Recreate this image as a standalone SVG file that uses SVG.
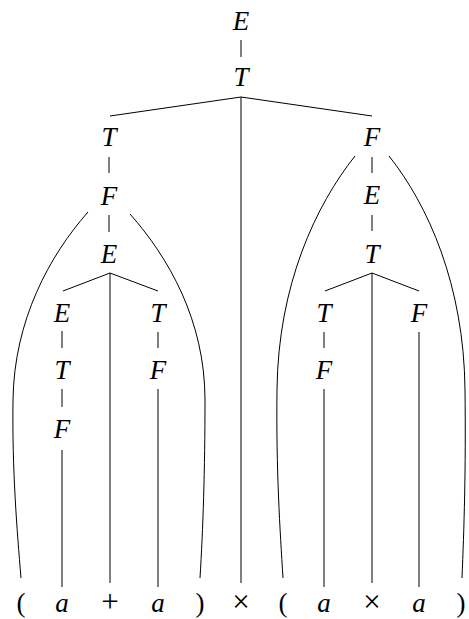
<svg xmlns="http://www.w3.org/2000/svg" width="469" height="619" viewBox="0 0 469 619">
<style>
.t{font-family:"Liberation Serif","Times New Roman",serif;font-size:27px;fill:#000;text-anchor:middle}
.i{font-style:italic}
.op{font-size:31px}
#edges line,#edges path{stroke:#000;stroke-width:1;fill:none}
</style>
<rect width="469" height="619" fill="#fff"/>
<g id="edges">
<line x1="241" y1="40" x2="241" y2="57"/>
<line x1="241" y1="97" x2="110" y2="116"/>
<line x1="241" y1="97" x2="372" y2="116"/>
<line x1="241" y1="97" x2="241" y2="583"/>
<line x1="109" y1="157" x2="109" y2="173"/>
<line x1="109" y1="215" x2="109" y2="232"/>
<path d="M88,212 C50,255 14,320 13,400 C12,470 17,530 21,578"/>
<path d="M130,214 C168,257 205,320 205,400 C205,470 203,530 200,578"/>
<line x1="110" y1="273" x2="63" y2="291"/>
<line x1="110" y1="273" x2="158" y2="291"/>
<line x1="110" y1="273" x2="110" y2="583"/>
<line x1="62" y1="331" x2="62" y2="348"/>
<line x1="62" y1="389" x2="62" y2="407"/>
<line x1="62" y1="450" x2="62" y2="587"/>
<line x1="158" y1="332" x2="158" y2="348"/>
<line x1="158" y1="389" x2="158" y2="587"/>
<line x1="372" y1="157" x2="372" y2="173"/>
<line x1="372" y1="215" x2="372" y2="231"/>
<path d="M355,156 C316,205 278,285 277,390 C276,470 280,530 283,578"/>
<path d="M389,156 C428,205 464,285 465,390 C466,470 464,530 462,578"/>
<line x1="372" y1="273" x2="325" y2="291"/>
<line x1="372" y1="273" x2="419" y2="291"/>
<line x1="372" y1="273" x2="372" y2="583"/>
<line x1="324" y1="332" x2="324" y2="348"/>
<line x1="324" y1="389" x2="324" y2="587"/>
<line x1="419" y1="332" x2="419" y2="587"/>
</g>
<g id="n_E0"><text class="t i" x="241" y="30">E</text></g>
<g id="n_T0"><text class="t i" x="241" y="86">T</text></g>
<g id="n_T1"><text class="t i" x="109" y="146">T</text></g>
<g id="n_F1"><text class="t i" x="109" y="205">F</text></g>
<g id="n_E1"><text class="t i" x="109" y="263">E</text></g>
<g id="n_E2"><text class="t i" x="62" y="322">E</text></g>
<g id="n_T2"><text class="t i" x="62" y="379">T</text></g>
<g id="n_F2"><text class="t i" x="62" y="438">F</text></g>
<g id="n_T3"><text class="t i" x="158" y="322">T</text></g>
<g id="n_F3"><text class="t i" x="158" y="379">F</text></g>
<g id="n_F4"><text class="t i" x="372" y="146">F</text></g>
<g id="n_E4"><text class="t i" x="372" y="204">E</text></g>
<g id="n_T4"><text class="t i" x="372" y="263">T</text></g>
<g id="n_T5"><text class="t i" x="324" y="322">T</text></g>
<g id="n_F5"><text class="t i" x="324" y="379">F</text></g>
<g id="n_F6"><text class="t i" x="419" y="322">F</text></g>
<g id="leaf1"><text class="t" x="21" y="612">(</text></g>
<g id="leaf2"><text class="t i" x="62" y="612">a</text></g>
<g id="leaf3"><text class="t op" x="110" y="612">+</text></g>
<g id="leaf4"><text class="t i" x="158" y="612">a</text></g>
<g id="leaf5"><text class="t" x="200" y="612">)</text></g>
<g id="leaf6"><text class="t op" x="241" y="612">×</text></g>
<g id="leaf7"><text class="t" x="283" y="612">(</text></g>
<g id="leaf8"><text class="t i" x="324" y="612">a</text></g>
<g id="leaf9"><text class="t op" x="372" y="612">×</text></g>
<g id="leaf10"><text class="t i" x="419" y="612">a</text></g>
<g id="leaf11"><text class="t" x="461" y="612">)</text></g>
</svg>
